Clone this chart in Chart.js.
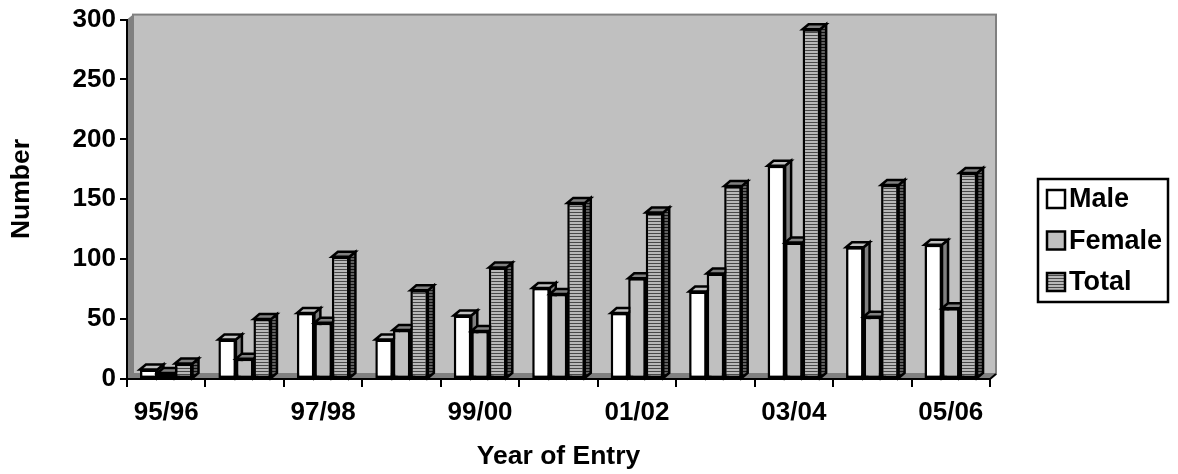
<!DOCTYPE html>
<html lang="en">
<head>
    <meta charset="UTF-8">
    <title>Year of Entry</title>
    <script src="https://cdn.jsdelivr.net/npm/chart.js"></script>
    <style>
        body { margin: 0; padding: 0; background-color: #fff; }
        #chart-container { width: 1178px; height: 474px; }
    </style>
</head>
<body>

<div id="chart-container">
    <canvas id="entryChart"></canvas>
</div>

<script>
    // Values
    const years = ['95/96', '96/97', '97/98', '98/99', '99/00', '00/01', '01/02', '02/03', '03/04', '04/05', '05/06'];
    const male = [8, 33, 55, 33, 53, 76, 55, 73, 178, 110, 112];
    const female = [5, 17, 47, 41, 40, 71, 84, 88, 114, 52, 59];
    const total = [13, 50, 102, 74, 93, 147, 139, 161, 292, 162, 172];
    const yTicks = [0, 50, 100, 150, 200, 250, 300];

    const FAMILY = '"Liberation Sans", Arial, sans-serif';
    const DX = 6, DY = 5; // depth of the fake 3D

    // Horizontal stripes for the Total series
    function stripes(dark, light) {
        const c = document.createElement('canvas');
        c.width = 4;
        c.height = 3;
        const g = c.getContext('2d');
        g.fillStyle = light;
        g.fillRect(0, 0, 4, 3);
        g.fillStyle = dark;
        g.fillRect(0, 2, 4, 1);
        return document.createElement('canvas').getContext('2d').createPattern(c, 'repeat');
    }
    const totalFront = stripes('#484848', '#b8b8b8');
    const totalSide = stripes('#111', '#606060');

    const sideColours = ['#808080', '#808080', totalSide];
    const topColours = ['#c0c0c0', '#808080', '#808080'];

    const wallPlugin = {
        id: 'wall',
        beforeDraw(chart) {
            const { ctx, chartArea: a } = chart;
            ctx.save();
            ctx.fillStyle = '#808080';
            ctx.beginPath();
            ctx.moveTo(a.left, a.top);
            ctx.lineTo(a.left + DX, a.top - DY);
            ctx.lineTo(a.left + DX, a.bottom - DY);
            ctx.lineTo(a.right + DX, a.bottom - DY);
            ctx.lineTo(a.right, a.bottom);
            ctx.lineTo(a.left, a.bottom);
            ctx.closePath();
            ctx.fill();
            ctx.fillStyle = '#c0c0c0';
            ctx.strokeStyle = '#808080';
            ctx.lineWidth = 2;
            ctx.fillRect(a.left + DX, a.top - DY, a.right - a.left, a.bottom - a.top);
            ctx.strokeRect(a.left + DX, a.top - DY, a.right - a.left, a.bottom - a.top);
            ctx.strokeStyle = '#000';
            ctx.beginPath();
            ctx.moveTo(a.right, a.bottom);
            ctx.lineTo(a.right + DX, a.bottom - DY);
            ctx.stroke();
            ctx.restore();
        }
    };

    // Side and top faces, taken from the bars the library placed
    function drawFaces(ctx, meta, i) {
        ctx.save();
        ctx.strokeStyle = '#000';
        ctx.lineWidth = 2.5;
        meta.data.forEach(bar => {
            const { x, y, base, width } = bar.getProps(['x', 'y', 'base', 'width']);
            const l = x - width / 2, r = x + width / 2;
            ctx.fillStyle = sideColours[i];
            ctx.beginPath();
            ctx.moveTo(r, y);
            ctx.lineTo(r + DX, y - DY);
            ctx.lineTo(r + DX, base - DY);
            ctx.lineTo(r, base);
            ctx.closePath();
            ctx.fill();
            ctx.stroke();
            ctx.fillStyle = topColours[i];
            ctx.beginPath();
            ctx.moveTo(l, y);
            ctx.lineTo(l + DX, y - DY);
            ctx.lineTo(r + DX, y - DY);
            ctx.lineTo(r, y);
            ctx.closePath();
            ctx.fill();
            ctx.stroke();
        });
        ctx.restore();
    }

    // Male first, Total last, so each series hides the side of the one before it
    const depthPlugin = {
        id: 'depth',
        beforeDatasetsDraw(chart) {
            chart.data.datasets.forEach((ds, i) => {
                const meta = chart.getDatasetMeta(i);
                drawFaces(chart.ctx, meta, i);
                meta.controller.draw();
            });
            return false;
        }
    };

    // Legend box and the y title sit off-centre from the plot, so they are placed by hand
    const legendPlugin = {
        id: 'legendBox',
        afterDraw(chart) {
            const { ctx } = chart;
            ctx.save();
            ctx.strokeStyle = '#000';
            ctx.lineWidth = 2.5;
            ctx.strokeRect(1038, 179, 130, 123);
            ctx.font = 'bold 27px ' + FAMILY;
            ctx.textBaseline = 'middle';
            chart.data.datasets.forEach((ds, i) => {
                const y = 199 + i * 41.5;
                ctx.fillStyle = ds.backgroundColor;
                ctx.fillRect(1047, y - 9, 18, 18);
                ctx.strokeRect(1047, y - 9, 18, 18);
                ctx.fillStyle = '#000';
                ctx.fillText(ds.label, 1069, y + 1);
            });
            ctx.font = 'bold 26.5px ' + FAMILY;
            ctx.translate(22, 189);
            ctx.rotate(-Math.PI / 2);
            ctx.textAlign = 'center';
            ctx.fillText('Number', 0, 0);
            ctx.restore();
        }
    };

    const ctx = document.getElementById('entryChart').getContext('2d');
    new Chart(ctx, {
        type: 'bar',
        data: {
            labels: years,
            datasets: [
                { label: 'Male', data: male, backgroundColor: '#ffffff' },
                { label: 'Female', data: female, backgroundColor: '#c0c0c0' },
                { label: 'Total', data: total, backgroundColor: totalFront }
            ]
        },
        plugins: [wallPlugin, depthPlugin, legendPlugin],
        options: {
            responsive: true,
            maintainAspectRatio: false,
            animation: false,
            layout: { padding: { top: 19, right: 188 } },
            datasets: {
                bar: {
                    categoryPercentage: 0.67,
                    barPercentage: 1,
                    borderColor: '#000',
                    borderWidth: 2.5,
                    borderSkipped: false
                }
            },
            plugins: {
                legend: { display: false },
                tooltip: { enabled: false }
            },
            scales: {
                x: {
                    afterFit: s => { s.height = 95; },
                    grid: { offset: true, drawOnChartArea: false, color: '#000', lineWidth: 2, tickLength: 8 },
                    border: { color: '#000', width: 2 },
                    ticks: {
                        color: '#000',
                        font: { family: FAMILY, size: 26, weight: 'bold' },
                        autoSkip: false,
                        maxRotation: 0,
                        padding: 10,
                        callback: function(value, index) {
                            return index % 2 === 0 ? this.getLabelForValue(value) : '';
                        }
                    },
                    title: {
                        display: true,
                        text: 'Year of Entry',
                        color: '#000',
                        font: { family: FAMILY, size: 26.5, weight: 'bold' },
                        padding: { top: 0, bottom: 1 }
                    }
                },
                y: {
                    min: 0,
                    max: 300,
                    afterFit: s => { s.width = 127; },
                    afterBuildTicks: s => { s.ticks = yTicks.map(v => ({ value: v })); },
                    grid: { drawOnChartArea: false, color: '#000', lineWidth: 2, tickLength: 7 },
                    border: { color: '#000', width: 2 },
                    ticks: {
                        color: '#000',
                        font: { family: FAMILY, size: 26, weight: 'bold' },
                        padding: 4
                    }
                }
            }
        }
    });
</script>

</body>
</html>
